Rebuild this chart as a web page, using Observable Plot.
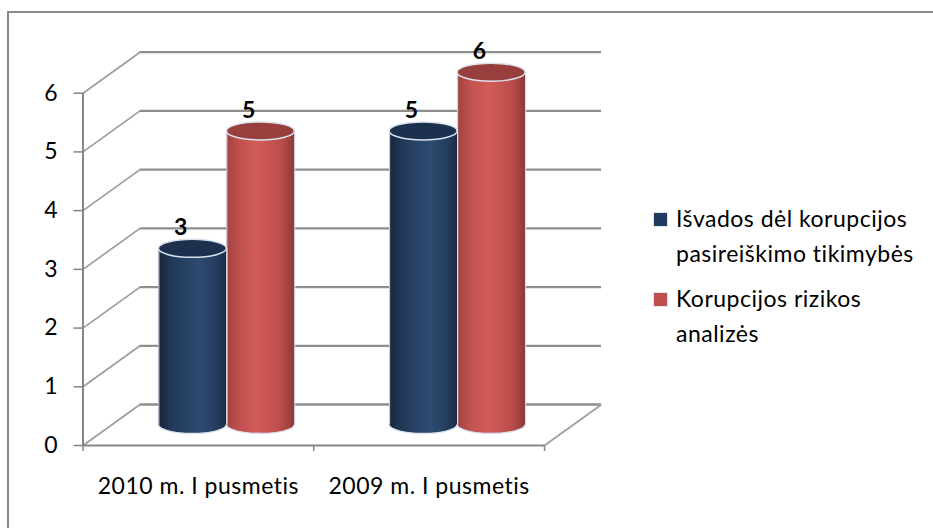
<!DOCTYPE html>
<html><head><meta charset="utf-8">
<script src="https://cdn.jsdelivr.net/npm/d3@7"></script>
<script src="https://cdn.jsdelivr.net/npm/@observablehq/plot@0.6"></script>
<style>
body{margin:0;background:#fff;font-family:Lato,sans-serif;}
#wrap{position:relative;width:933px;height:528px;overflow:hidden;background:#fff;}
#frame{position:absolute;left:7px;top:11px;width:1000px;height:1000px;border-left:2px solid #8a8a8a;border-top:2px solid #8a8a8a;}
#chart{position:absolute;left:0;top:0;}
#legend{position:absolute;left:653px;top:200.5px;font-size:23px;letter-spacing:0.5px;color:#000;}
.item{display:flex;align-items:flex-start;margin-bottom:10px;line-height:35px;}
.sw{width:13px;height:13px;margin-top:11px;margin-right:8px;flex:none;border:0.5px solid #dfe6ef;}
.txt{width:248px;}
</style></head><body>
<div id="wrap"><div id="frame"></div><div id="chart"></div><div id="legend"></div></div>
<script>
const categories = ["2010 m. I pusmetis", "2009 m. I pusmetis"];
const seriesNames = ["Išvados dėl korupcijos pasireiškimo tikimybės", "Korupcijos rizikos analizės"];
const seriesA = [3, 5];
const seriesB = [5, 6];
const yTicks = [0, 1, 2, 3, 4, 5, 6];
const seriesColors = ["#1f3a5f", "#c0504d"];

const W = 933, H = 528, ML = 82.5, MR = 389, MT = 92.7, MB = 83;
const DX = 57, DY = 41;          // depth of the 3-D box in pixels
const nCat = categories.length;
const yMax = yTicks[yTicks.length - 1];
const pxX = (W - ML - MR) / nCat, pxY = (H - MT - MB) / yMax;
const depthX = DX / pxX, depthY = DY / pxY;
const barW = 68 / pxX;
const midDX = DX / 2, midDY = -DY / 2;

const rows = [];
categories.forEach((c, i) => {
  [seriesA, seriesB].forEach((s, j) => {
    rows.push({cat: c, i, j, value: s[i],
      x1: i + 0.5 + (j - 1) * barW, x2: i + 0.5 + j * barW, xc: i + 0.5 + (j - 0.5) * barW});
  });
});
const rowsS = [0, 1].map(j => rows.filter(r => r.j === j));
const fills = ["url(#gB)", "url(#gR)"];
const topFills = ["#1d314e", "#983f3d"];
const rim = "#d9e3ef";

const cylMarks = [];
[0, 1].forEach(j => cylMarks.push(Plot.rect(rowsS[j], {x1: "x1", x2: "x2", y1: 0, y2: 0, insetTop: -9, insetBottom: -9,
  rx: 34, ry: 9, dx: midDX, dy: midDY, fill: fills[j], stroke: rim, strokeWidth: 1.5})));
[0, 1].forEach(j => cylMarks.push(Plot.rect(rowsS[j], {x1: "x1", x2: "x2", y1: 0, y2: "value", dx: midDX, dy: midDY, fill: fills[j]})));
[0, 1].forEach(j => cylMarks.push(Plot.ruleX(rowsS[j], {x: "x1", y1: 0, y2: "value", dx: midDX, dy: midDY, stroke: rim, strokeWidth: 1})));
[0, 1].forEach(j => cylMarks.push(Plot.ruleX(rowsS[j], {x: "x2", y1: 0, y2: "value", dx: midDX, dy: midDY, stroke: rim, strokeWidth: 1})));
[0, 1].forEach(j => cylMarks.push(Plot.rect(rowsS[j], {x1: "x1", x2: "x2", y1: "value", y2: "value", insetTop: -9, insetBottom: -9,
  rx: 34, ry: 9, dx: midDX, dy: midDY, fill: topFills[j], stroke: rim, strokeWidth: 1.5})));

const svg = Plot.plot({
  width: W, height: H,
  marginLeft: ML, marginRight: MR, marginTop: MT, marginBottom: MB,
  style: {fontFamily: "Lato, sans-serif", fontSize: "23px", letterSpacing: "0.5px", background: "transparent", overflow: "visible", color: "#000"},
  x: {domain: [0, nCat], axis: null},
  y: {domain: [0, yMax], axis: null},
  marks: [
    Plot.ruleY(yTicks, {x1: 0, x2: nCat, dx: DX, dy: -DY, stroke: "#8e8e8e", strokeWidth: 2.3}),
    Plot.link(yTicks, {x1: 0, y1: d => d, x2: depthX, y2: d => d + depthY, stroke: "#9d9d9d", strokeWidth: 1.7}),
    Plot.link([0], {x1: nCat, y1: 0, x2: nCat + depthX, y2: depthY, stroke: "#9d9d9d", strokeWidth: 1.7}),
    Plot.ruleX([0], {y1: 0, y2: yMax, stroke: "#868686", strokeWidth: 2}),
    Plot.ruleY([0], {x1: 0, x2: nCat, stroke: "#868686", strokeWidth: 2.2}),
    Plot.axisY({ticks: yTicks, label: null, tickSize: 9, tickPadding: 16, stroke: "#868686", strokeWidth: 1.5, tickFormat: d3.format("d")}),
    Plot.axisX({ticks: d3.range(nCat + 1), label: null, tickSize: 6, tickFormat: () => "", stroke: "#868686", strokeWidth: 1.5}),
    Plot.text(categories, {x: (d, i) => i + 0.5, y: 0, text: d => d, dy: 41, fill: "#000"}),
    ...cylMarks,
    Plot.text(rows, {x: "xc", y: "value", text: d => String(d.value), dx: midDX - 12, dy: midDY - 21, fontWeight: "bold", fontSize: 23, fill: "#000"})
  ]
});

d3.select(svg).insert("defs", ":first-child").html(`
<linearGradient id="gB" x1="0" x2="1" y1="0" y2="0">
  <stop offset="0" stop-color="#17263b"/><stop offset="0.2" stop-color="#223a5a"/>
  <stop offset="0.6" stop-color="#2d4b70"/><stop offset="0.85" stop-color="#243e60"/>
  <stop offset="1" stop-color="#1a2c46"/></linearGradient>
<linearGradient id="gR" x1="0" x2="1" y1="0" y2="0">
  <stop offset="0" stop-color="#a04241"/><stop offset="0.2" stop-color="#c15250"/>
  <stop offset="0.45" stop-color="#d35b58"/><stop offset="0.8" stop-color="#bb4e4c"/>
  <stop offset="1" stop-color="#8c3938"/></linearGradient>`);

document.getElementById("chart").appendChild(svg);

const legend = d3.select("#legend");
seriesNames.forEach((n, j) => {
  const it = legend.append("div").attr("class", "item");
  it.append("div").attr("class", "sw").style("background", seriesColors[j]);
  it.append("div").attr("class", "txt").text(n);
});
</script>
</body></html>
